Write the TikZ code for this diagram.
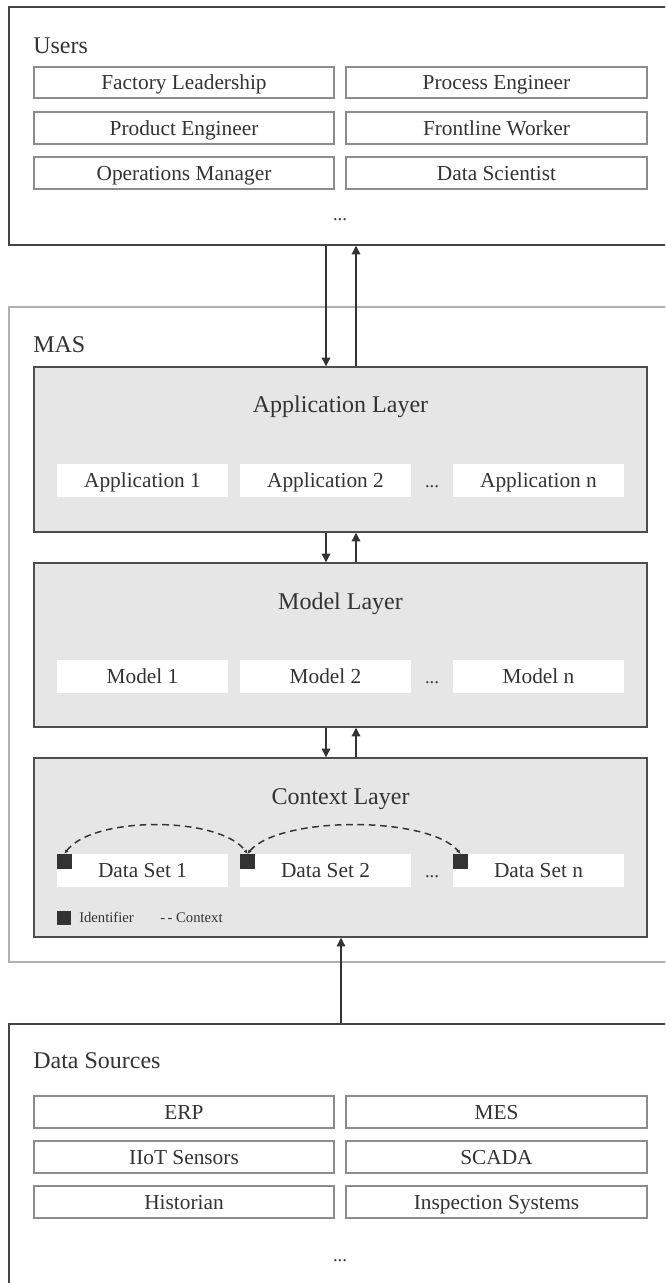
\documentclass[tikz,border=0pt]{standalone}
\usepackage{fontspec}
\setmainfont{Liberation Serif}
\usetikzlibrary{arrows.meta,calc,fit}
\definecolor{txt}{HTML}{333333}
\definecolor{outerline}{HTML}{444444}
\definecolor{masline}{HTML}{B0B0B0}
\definecolor{itemline}{HTML}{8C8C8C}
\definecolor{layerfill}{HTML}{E6E6E6}
\definecolor{layerline}{HTML}{4D4D4D}
\definecolor{idfill}{HTML}{333333}
\tikzset{
  container/.style={draw=outerline, line width=1.1pt, inner sep=0pt, fill=white},
  masbox/.style={draw=masline, line width=1.5pt, inner sep=0pt},
  layerbox/.style={draw=layerline, fill=layerfill, line width=1.1pt, inner sep=0pt},
  itembox/.style={draw=itemline, line width=1.2pt, fill=white, inner sep=0pt},
  subbox/.style={fill=white, inner sep=0pt},
  boxtext/.style={inner sep=0pt, text=txt, font=\fontsize{16}{18}\selectfont, text height=10.6pt, text depth=0pt},
  titletext/.style={inner sep=0pt, text=txt, font=\fontsize{18}{20}\selectfont, text height=11.9pt, text depth=0pt},
  dotstext/.style={inner sep=0pt, text=txt, font=\fontsize{14}{16}\selectfont, text height=0pt, text depth=0pt},
  legendtext/.style={inner sep=0pt, text=txt, font=\fontsize{11}{13}\selectfont, text height=7.3pt, text depth=0pt},
  idsq/.style={fill=idfill, draw=none, inner sep=0pt},
  flow/.style={draw=txt, line width=0.9pt, -{Triangle[length=6.5pt,width=6.5pt]}},
  ctxlink/.style={draw=txt, line width=1.1pt, dash pattern=on 5pt off 3.5pt, {Latex[length=3pt,width=3pt]}-{Latex[length=3pt,width=3pt]}},
}
\begin{document}
\begin{tikzpicture}[x=0.75pt,y=-0.75pt]
\useasboundingbox (0,0) rectangle (665,1283);
\clip (0,0) rectangle (665,1283);
% ---------------- Users ----------------
\node[container, fit={(9,7) (680,245)}] (users) {};
\node[titletext, anchor=west] (usersT) at (33,45.5) {Users};
\node[itembox, fit={(34,67) (334,98)}] (u1) {};
\node[itembox, fit={(346,67) (647,98)}] (u2) {};
\node[itembox, fit={(34,112) (334,144)}] (u3) {};
\node[itembox, fit={(346,112) (647,144)}] (u4) {};
\node[itembox, fit={(34,157) (334,189)}] (u5) {};
\node[itembox, fit={(346,157) (647,189)}] (u6) {};
\node[boxtext] (u1t) at (u1.center) {Factory Leadership};
\node[boxtext] (u2t) at (u2.center) {Process Engineer};
\node[boxtext] (u3t) at (u3.center) {Product Engineer};
\node[boxtext] (u4t) at (u4.center) {Frontline Worker};
\node[boxtext] (u5t) at (u5.center) {Operations Manager};
\node[boxtext] (u6t) at (u6.center) {Data Scientist};
\node[dotstext] (udots) at (340,220) {...};
% ---------------- MAS ----------------
\node[masbox, fit={(9,307) (680,962)}] (mas) {};
\node[titletext, anchor=west] (masT) at (33,345) {MAS};
% Application layer
\node[layerbox, fit={(34,367) (647,532)}] (app) {};
\node[titletext] (appT) at (340.5,405) {Application Layer};
\node[subbox, fit={(57,463.5) (228,496.5)}] (a1) {};
\node[subbox, fit={(240,463.5) (411,496.5)}] (a2) {};
\node[subbox, fit={(453,463.5) (624,496.5)}] (an) {};
\node[boxtext] (a1t) at (a1.center) {Application 1};
\node[boxtext] (a2t) at (a2.center) {Application 2};
\node[boxtext] (ant) at (an.center) {Application n};
\node[dotstext] (adots) at (432,487) {...};
% Model layer
\node[layerbox, fit={(34,563) (647,727)}] (model) {};
\node[titletext] (modelT) at (340.5,602) {Model Layer};
\node[subbox, fit={(57,659.5) (228,692.5)}] (m1) {};
\node[subbox, fit={(240,659.5) (411,692.5)}] (m2) {};
\node[subbox, fit={(453,659.5) (624,692.5)}] (mn) {};
\node[boxtext] (m1t) at (m1.center) {Model 1};
\node[boxtext] (m2t) at (m2.center) {Model 2};
\node[boxtext] (mnt) at (mn.center) {Model n};
\node[dotstext] (mdots) at (432,683) {...};
% Context layer
\node[layerbox, fit={(34,758) (647,937)}] (ctx) {};
\node[titletext] (ctxT) at (340.5,797) {Context Layer};
\node[subbox, fit={(57,854) (228,887)}] (d1) {};
\node[subbox, fit={(240,854) (411,887)}] (d2) {};
\node[subbox, fit={(453,854) (624,887)}] (dn) {};
\node[boxtext] (d1t) at (d1.center) {Data Set 1};
\node[boxtext] (d2t) at (d2.center) {Data Set 2};
\node[boxtext] (dnt) at (dn.center) {Data Set n};
\node[dotstext] (ddots) at (432,877) {...};
\node[idsq, fit={(57,854) (72,869)}] (s1) {};
\node[idsq, fit={(240,854) (255,869)}] (s2) {};
\node[idsq, fit={(453,854) (468,869)}] (sn) {};
\draw[ctxlink] (s1.north) .. controls ($(s1.north)+(28,-38)$) and ($(s2.north)+(-28,-38)$) .. (s2.north);
\draw[ctxlink] (s2.north) .. controls ($(s2.north)+(32,-38)$) and ($(sn.north)+(-32,-38)$) .. (sn.north);
% legend
\node[idsq, fit={(57,911) (71,925)}] (legsq) {};
\node[legendtext, anchor=west] (legid) at (79,918) {Identifier};
\node[legendtext, anchor=west] (legctx) at (160,918) {-\,- Context};
% ---------------- Data Sources ----------------
\node[container, fit={(9,1024) (680,1300)}] (ds) {};
\node[titletext, anchor=west] (dsT) at (33,1061) {Data Sources};
\node[itembox, fit={(34,1096) (334,1128)}] (e1) {};
\node[itembox, fit={(346,1096) (647,1128)}] (e2) {};
\node[itembox, fit={(34,1141) (334,1173)}] (e3) {};
\node[itembox, fit={(346,1141) (647,1173)}] (e4) {};
\node[itembox, fit={(34,1186) (334,1218)}] (e5) {};
\node[itembox, fit={(346,1186) (647,1218)}] (e6) {};
\node[boxtext] (e1t) at (e1.center) {ERP};
\node[boxtext] (e2t) at (e2.center) {MES};
\node[boxtext] (e3t) at (e3.center) {IIoT Sensors};
\node[boxtext] (e4t) at (e4.center) {SCADA};
\node[boxtext] (e5t) at (e5.center) {Historian};
\node[boxtext] (e6t) at (e6.center) {Inspection Systems};
\node[dotstext] (dsdots) at (340,1261) {...};
% ---------------- connectors ----------------
\coordinate (dnx) at (326,0);
\coordinate (upx) at (356,0);
\coordinate (srcx) at (341,0);
\draw[flow] (users.south -| dnx) -- (app.north -| dnx);
\draw[flow] (app.north -| upx) -- (users.south -| upx);
\draw[flow] (app.south -| dnx) -- (model.north -| dnx);
\draw[flow] (model.north -| upx) -- (app.south -| upx);
\draw[flow] (model.south -| dnx) -- (ctx.north -| dnx);
\draw[flow] (ctx.north -| upx) -- (model.south -| upx);
\draw[flow] (ds.north -| srcx) -- (ctx.south -| srcx);
\end{tikzpicture}
\end{document}
